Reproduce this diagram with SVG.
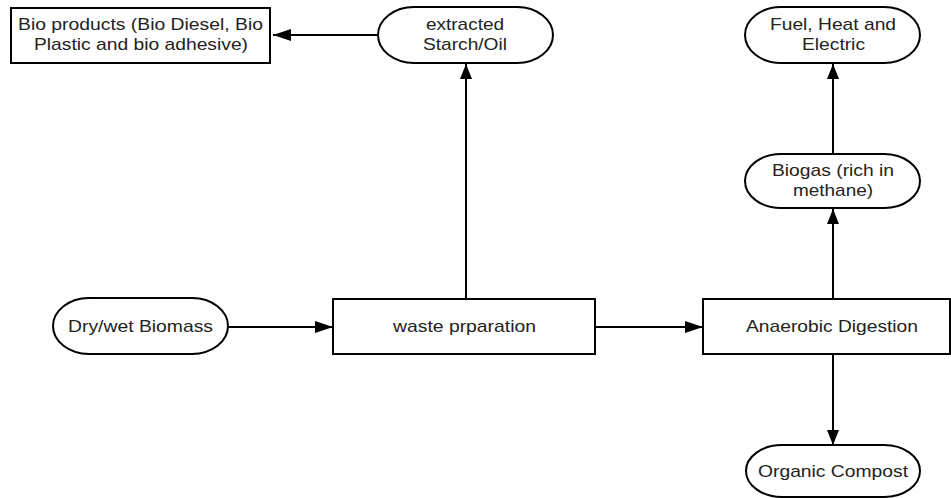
<svg xmlns="http://www.w3.org/2000/svg" width="951" height="498" viewBox="0 0 951 498">
<style>
.box{fill:#fff;stroke:#000;stroke-width:2}
.t{font-family:"Liberation Sans",Arial,sans-serif;font-size:16.2px;fill:#222}
.c{stroke:#000;stroke-width:2;fill:none}
</style>
<defs>
<marker id="ah" markerUnits="userSpaceOnUse" markerWidth="18" markerHeight="12" refX="18" refY="6" orient="auto" viewBox="0 0 18 12"><path d="M0,0 L18,6 L0,12 Z" fill="#000"/></marker>
<marker id="av" markerUnits="userSpaceOnUse" markerWidth="15" markerHeight="12" refX="15" refY="6" orient="auto" viewBox="0 0 15 12"><path d="M0,0 L15,6 L0,12 Z" fill="#000"/></marker>
</defs>
<rect width="951" height="498" fill="#fff"/>
<g id="connectors">
<line class="c" x1="378" y1="35" x2="273" y2="35" marker-end="url(#ah)"/>
<line class="c" x1="466" y1="299" x2="466" y2="64" marker-end="url(#av)"/>
<line class="c" x1="228" y1="327" x2="333" y2="327" marker-end="url(#ah)"/>
<line class="c" x1="595" y1="327" x2="703" y2="327" marker-end="url(#ah)"/>
<line class="c" x1="833" y1="299" x2="833" y2="209" marker-end="url(#av)"/>
<line class="c" x1="833" y1="154" x2="833" y2="64" marker-end="url(#av)"/>
<line class="c" x1="833" y1="354" x2="833" y2="445" marker-end="url(#av)"/>
</g>
<g id="bio-products">
<rect class="box" x="11" y="8" width="259" height="55"/>
<text class="t" x="18" y="29.5" textLength="245" lengthAdjust="spacingAndGlyphs">Bio products (Bio Diesel, Bio</text>
<text class="t" x="34" y="50" textLength="214" lengthAdjust="spacingAndGlyphs">Plastic and bio adhesive)</text>
</g>
<g id="starch-oil">
<rect class="box" x="378" y="7" width="175" height="56" rx="36" ry="28"/>
<text class="t" x="426" y="29.5" textLength="78" lengthAdjust="spacingAndGlyphs">extracted</text>
<text class="t" x="423" y="50" textLength="84" lengthAdjust="spacingAndGlyphs">Starch/Oil</text>
</g>
<g id="fuel">
<rect class="box" x="745" y="7" width="175" height="56" rx="36" ry="28"/>
<text class="t" x="770" y="29.5" textLength="126" lengthAdjust="spacingAndGlyphs">Fuel, Heat and</text>
<text class="t" x="802" y="49.5" textLength="63" lengthAdjust="spacingAndGlyphs">Electric</text>
</g>
<g id="biogas">
<rect class="box" x="745" y="154" width="175" height="54" rx="36" ry="27"/>
<text class="t" x="772" y="176" textLength="122" lengthAdjust="spacingAndGlyphs">Biogas (rich in</text>
<text class="t" x="793" y="195.5" textLength="80" lengthAdjust="spacingAndGlyphs">methane)</text>
</g>
<g id="dry-wet-biomass">
<rect class="box" x="53" y="298" width="175" height="56" rx="36" ry="28"/>
<text class="t" x="68" y="332" textLength="145" lengthAdjust="spacingAndGlyphs">Dry/wet Biomass</text>
</g>
<g id="waste-preparation">
<rect class="box" x="333" y="299" width="262" height="55"/>
<text class="t" x="393" y="332" textLength="143" lengthAdjust="spacingAndGlyphs">waste prparation</text>
</g>
<g id="anaerobic-digestion">
<rect class="box" x="703" y="299" width="247" height="55"/>
<text class="t" x="746" y="332" textLength="172" lengthAdjust="spacingAndGlyphs">Anaerobic Digestion</text>
</g>
<g id="organic-compost">
<rect class="box" x="746" y="445" width="174" height="52" rx="36" ry="26"/>
<text class="t" x="758" y="477" textLength="150" lengthAdjust="spacingAndGlyphs">Organic Compost</text>
</g>
</svg>
